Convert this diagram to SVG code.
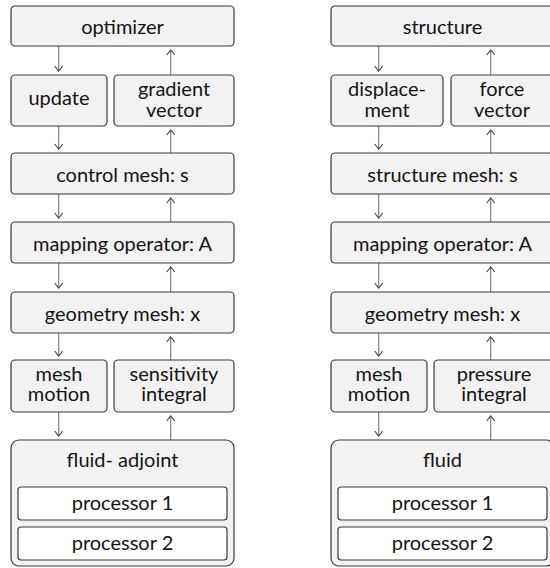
<svg xmlns="http://www.w3.org/2000/svg" width="550" height="568" viewBox="0 0 550 568">
  <style>
    .box { fill: #f2f2f2; stroke: #3a3a3a; stroke-width: 1.2; }
    .proc { fill: #ffffff; stroke: #3a3a3a; stroke-width: 1.2; }
    .lbl { font-family: Lato, "Open Sans", "Liberation Sans", sans-serif; font-size: 20px; fill: #141414; text-anchor: middle; }
    .conn line { stroke: #777777; stroke-width: 1.1; marker-end: url(#head); }
  </style>
  <defs>
    <!-- open V arrowhead, tip at the line end -->
    <marker id="head" viewBox="-6 -5 7 10" markerWidth="7" markerHeight="10" refX="0" refY="0" orient="auto" markerUnits="userSpaceOnUse">
      <path d="M-5,-4 L0,0 L-5,4" fill="none" stroke="#444444" stroke-width="1.1"/>
    </marker>
  </defs>

  <!-- connectors -->
  <g id="connectors" class="conn">
    <!-- left: downward chain -->
    <line x1="58.7" y1="46" x2="58.7" y2="71"/>
    <line x1="58.7" y1="126" x2="58.7" y2="149"/>
    <line x1="58.7" y1="194" x2="58.7" y2="218"/>
    <line x1="58.7" y1="263" x2="58.7" y2="288"/>
    <line x1="58.7" y1="333" x2="58.7" y2="356"/>
    <line x1="58.7" y1="412" x2="58.7" y2="436"/>
    <!-- left: upward chain -->
    <line x1="170.7" y1="75" x2="170.7" y2="50"/>
    <line x1="170.7" y1="153" x2="170.7" y2="130"/>
    <line x1="170.7" y1="222" x2="170.7" y2="198"/>
    <line x1="170.7" y1="292" x2="170.7" y2="267"/>
    <line x1="170.7" y1="360" x2="170.7" y2="337"/>
    <line x1="170.7" y1="440" x2="170.7" y2="416"/>
    <!-- right: downward chain -->
    <line x1="378.7" y1="46" x2="378.7" y2="71"/>
    <line x1="378.7" y1="126" x2="378.7" y2="149"/>
    <line x1="378.7" y1="194" x2="378.7" y2="218"/>
    <line x1="378.7" y1="263" x2="378.7" y2="288"/>
    <line x1="378.7" y1="333" x2="378.7" y2="356"/>
    <line x1="378.7" y1="412" x2="378.7" y2="436"/>
    <!-- right: upward chain -->
    <line x1="490.7" y1="75" x2="490.7" y2="50"/>
    <line x1="490.7" y1="153" x2="490.7" y2="130"/>
    <line x1="490.7" y1="222" x2="490.7" y2="198"/>
    <line x1="490.7" y1="292" x2="490.7" y2="267"/>
    <line x1="490.7" y1="360" x2="490.7" y2="337"/>
    <line x1="490.7" y1="440" x2="490.7" y2="416"/>
  </g>

  <!-- left column: optimisation loop -->
  <g id="optimizer">
    <rect class="box" x="11" y="6" width="223" height="40" rx="4"/>
    <text class="lbl" x="122.5" y="34">optimizer</text>
  </g>
  <g id="update">
    <rect class="box" x="11" y="75" width="96" height="51" rx="4"/>
    <text class="lbl" x="59" y="104.5">update</text>
  </g>
  <g id="gradient-vector">
    <rect class="box" x="114" y="75" width="120" height="51" rx="4"/>
    <text class="lbl" x="174" y="96">gradient<tspan x="174" dy="21">vector</tspan></text>
  </g>
  <g id="control-mesh">
    <rect class="box" x="11" y="153" width="223" height="41" rx="4"/>
    <text class="lbl" x="122.5" y="181.5">control mesh: s</text>
  </g>
  <g id="mapping-left">
    <rect class="box" x="11" y="222" width="223" height="41" rx="4"/>
    <text class="lbl" x="122.5" y="250.5">mapping operator: A</text>
  </g>
  <g id="geometry-left">
    <rect class="box" x="11" y="292" width="223" height="41" rx="4"/>
    <text class="lbl" x="122.5" y="320.5">geometry mesh: x</text>
  </g>
  <g id="mesh-motion-left">
    <rect class="box" x="11" y="360" width="96" height="52" rx="4"/>
    <text class="lbl" x="59" y="380.5">mesh<tspan x="59" dy="20.5">motion</tspan></text>
  </g>
  <g id="sensitivity-integral">
    <rect class="box" x="114" y="360" width="120" height="52" rx="4"/>
    <text class="lbl" x="174" y="380.5">sensitivity<tspan x="174" dy="20.5">integral</tspan></text>
  </g>
  <g id="fluid-adjoint">
    <rect class="box" x="11" y="440" width="223" height="126" rx="8"/>
    <text class="lbl" x="122.5" y="467">fluid- adjoint</text>
    <rect class="proc" x="18" y="487" width="209" height="33" rx="3"/>
    <text class="lbl" x="122.5" y="510">processor 1</text>
    <rect class="proc" x="18" y="527" width="209" height="33" rx="3"/>
    <text class="lbl" x="122.5" y="550">processor 2</text>
  </g>

  <!-- right column: coupling loop -->
  <g id="structure">
    <rect class="box" x="331" y="6" width="223" height="40" rx="4"/>
    <text class="lbl" x="442.5" y="34">structure</text>
  </g>
  <g id="displacement">
    <rect class="box" x="331" y="75" width="112" height="51" rx="4"/>
    <text class="lbl" x="387" y="96">displace-<tspan x="387" dy="21">ment</tspan></text>
  </g>
  <g id="force-vector">
    <rect class="box" x="451" y="75" width="103" height="51" rx="4"/>
    <text class="lbl" x="502" y="96">force<tspan x="502" dy="21">vector</tspan></text>
  </g>
  <g id="structure-mesh">
    <rect class="box" x="331" y="153" width="223" height="41" rx="4"/>
    <text class="lbl" x="442.5" y="181.5">structure mesh: s</text>
  </g>
  <g id="mapping-right">
    <rect class="box" x="331" y="222" width="223" height="41" rx="4"/>
    <text class="lbl" x="442.5" y="250.5">mapping operator: A</text>
  </g>
  <g id="geometry-right">
    <rect class="box" x="331" y="292" width="223" height="41" rx="4"/>
    <text class="lbl" x="442.5" y="320.5">geometry mesh: x</text>
  </g>
  <g id="mesh-motion-right">
    <rect class="box" x="331" y="360" width="96" height="52" rx="4"/>
    <text class="lbl" x="379" y="380.5">mesh<tspan x="379" dy="20.5">motion</tspan></text>
  </g>
  <g id="pressure-integral">
    <rect class="box" x="434" y="360" width="120" height="52" rx="4"/>
    <text class="lbl" x="494" y="380.5">pressure<tspan x="494" dy="20.5">integral</tspan></text>
  </g>
  <g id="fluid">
    <rect class="box" x="331" y="440" width="223" height="126" rx="8"/>
    <text class="lbl" x="442.5" y="467">fluid</text>
    <rect class="proc" x="338" y="487" width="209" height="33" rx="3"/>
    <text class="lbl" x="442.5" y="510">processor 1</text>
    <rect class="proc" x="338" y="527" width="209" height="33" rx="3"/>
    <text class="lbl" x="442.5" y="550">processor 2</text>
  </g>
</svg>
